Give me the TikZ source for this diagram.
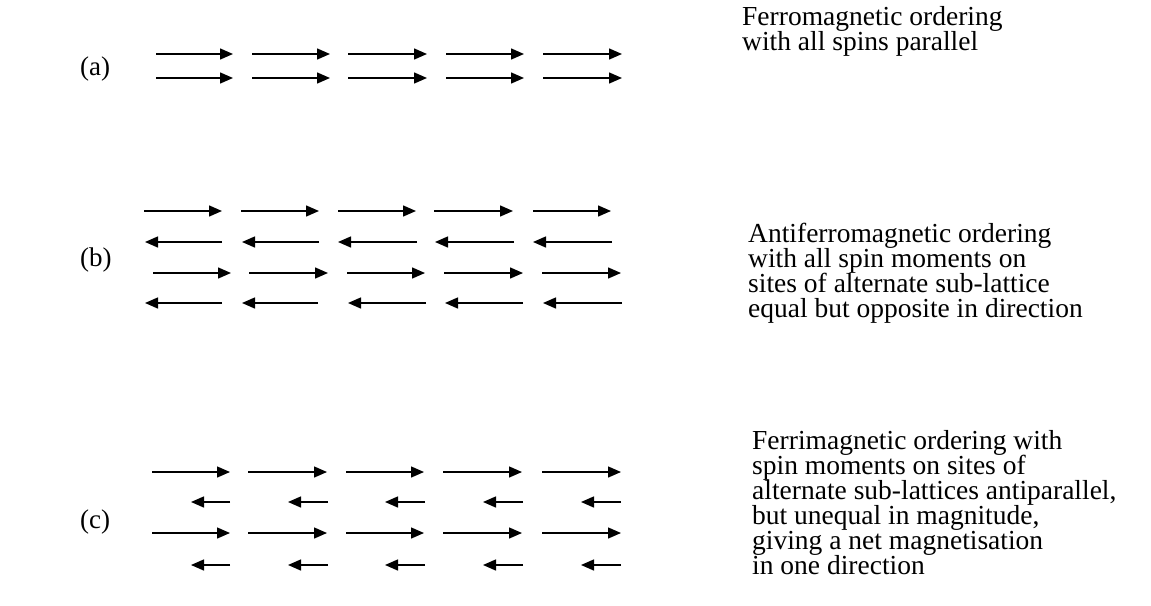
\documentclass[tikz,border=0pt]{standalone}
\usepackage{fontspec}
\setmainfont{Liberation Serif}
\usetikzlibrary{arrows.meta}
\newcommand{\desclines}[1]{\vtop{\hsize=420pt\raggedright\baselineskip=25pt\lineskiplimit=-30pt\noindent #1\par}}
\tikzset{
  spin/.style={line width=1.4pt, -{Triangle[length=13pt,width=11pt]}},
  lbl/.style={anchor=base west, inner sep=0pt, font=\fontsize{27}{25}\selectfont},
  desc/.style={anchor=base west, inner sep=0pt, font=\fontsize{27.5}{25}\selectfont}
}
\begin{document}
\begin{tikzpicture}[x=1pt,y=-1pt]
\useasboundingbox[fill=white] (0,0) rectangle (1151,605);
% labels
\node[lbl] (la) at (80,75) {(a)};
\node[lbl] (lb) at (80,266) {(b)};
\node[lbl] (lc) at (80,528) {(c)};
% descriptions
\node[desc] (ta) at (742,25) {\desclines{Ferromagnetic ordering\\with all spins parallel}};
\node[desc] (tb) at (748,242) {\desclines{Antiferromagnetic ordering\\with all spin moments on\\sites of alternate sub-lattice\\equal but opposite in direction}};
\node[desc] (tc) at (752,449) {\desclines{Ferrimagnetic ordering with\\spin moments on sites of\\alternate sub-lattices antiparallel,\\but unequal in magnitude,\\giving a net magnetisation\\in one direction}};
% (a)
\foreach \y in {54,78}{
  \draw[spin] (156,\y) -- (233,\y);
  \draw[spin] (252,\y) -- (330,\y);
  \draw[spin] (348,\y) -- (427,\y);
  \draw[spin] (446,\y) -- (524,\y);
  \draw[spin] (543,\y) -- (622,\y);
}
% (b)
\draw[spin] (144,211) -- (222,211);
\draw[spin] (241,211) -- (319,211);
\draw[spin] (338,211) -- (416,211);
\draw[spin] (434,211) -- (513,211);
\draw[spin] (533,211) -- (611,211);
\draw[spin] (222,242) -- (145,242);
\draw[spin] (319,242) -- (242,242);
\draw[spin] (417,242) -- (338,242);
\draw[spin] (514,242) -- (435,242);
\draw[spin] (612,242) -- (533,242);
\draw[spin] (153,273) -- (231,273);
\draw[spin] (249,273) -- (328,273);
\draw[spin] (347,273) -- (425,273);
\draw[spin] (444,273) -- (523,273);
\draw[spin] (542,273) -- (621,273);
\draw[spin] (222,303) -- (145,303);
\draw[spin] (318,303) -- (242,303);
\draw[spin] (426,303) -- (348,303);
\draw[spin] (523,303) -- (445,303);
\draw[spin] (622,303) -- (543,303);
% (c)
\foreach \y in {472,533}{
  \draw[spin] (152,\y) -- (230,\y);
  \draw[spin] (248,\y) -- (327,\y);
  \draw[spin] (346,\y) -- (424,\y);
  \draw[spin] (443,\y) -- (522,\y);
  \draw[spin] (542,\y) -- (621,\y);
}
\foreach \y in {502,565}{
  \draw[spin] (230,\y) -- (191,\y);
  \draw[spin] (328,\y) -- (288,\y);
  \draw[spin] (425,\y) -- (385,\y);
  \draw[spin] (523,\y) -- (483,\y);
  \draw[spin] (621,\y) -- (581,\y);
}
\end{tikzpicture}
\end{document}
